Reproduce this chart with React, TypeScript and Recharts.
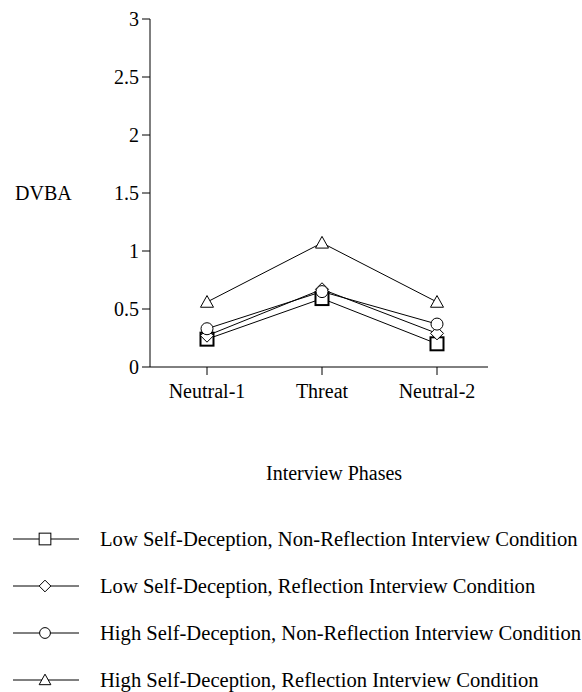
import { LineChart, Line, XAxis, YAxis } from "recharts";

const phases = ["Neutral-1", "Threat", "Neutral-2"];
const lowNonReflection = [0.24, 0.59, 0.2];
const lowReflection = [0.27, 0.67, 0.29];
const highNonReflection = [0.33, 0.65, 0.37];
const highReflection = [0.56, 1.07, 0.56];
const yTicks = [0, 0.5, 1, 1.5, 2, 2.5, 3];

type Shape = "square" | "diamond" | "circle" | "triangle";

const series: { key: string; name: string; shape: Shape; values: number[] }[] = [
  { key: "lnr", name: "Low Self-Deception, Non-Reflection Interview Condition", shape: "square", values: lowNonReflection },
  { key: "lr", name: "Low Self-Deception, Reflection Interview Condition", shape: "diamond", values: lowReflection },
  { key: "hnr", name: "High Self-Deception, Non-Reflection Interview Condition", shape: "circle", values: highNonReflection },
  { key: "hr", name: "High Self-Deception, Reflection Interview Condition", shape: "triangle", values: highReflection },
];

const data = phases.map((phase, i) => {
  const row: Record<string, string | number> = { phase };
  series.forEach(s => { row[s.key] = s.values[i]; });
  return row;
});

const FONT = "'Liberation Serif', 'Times New Roman', serif";

function Marker({ shape, cx, cy, big }: { shape: Shape; cx: number; cy: number; big: boolean }) {
  const s = big ? 1 : 0.9;
  if (shape === "square") {
    const h = 6.5 * s;
    return <rect x={cx - h} y={cy - h} width={h * 2} height={h * 2} fill="#fff" stroke="#000" strokeWidth={big ? 2 : 1} />;
  }
  if (shape === "diamond") {
    const h = 6.5 * s;
    return <polygon points={`${cx},${cy - h} ${cx + h},${cy} ${cx},${cy + h} ${cx - h},${cy}`} fill="#fff" stroke="#000" strokeWidth={1} />;
  }
  if (shape === "circle") {
    return <circle cx={cx} cy={cy} r={6 * s} fill="#fff" stroke="#000" strokeWidth={1} />;
  }
  const h = 6.5 * s;
  return <polygon points={`${cx},${cy - h} ${cx + h},${cy + h * 0.8} ${cx - h},${cy + h * 0.8}`} fill="#fff" stroke="#000" strokeWidth={1} />;
}

export default function App() {
  return (
    <div style={{ position: "absolute", left: 0, top: 0, width: 582, height: 692, background: "#fff", fontFamily: FONT, color: "#000" }}>
      <LineChart width={582} height={692} data={data} margin={{ top: 19, right: 94, left: 90, bottom: 295 }}>
        <XAxis
          dataKey="phase"
          padding={{ left: 57, right: 51 }}
          axisLine={{ stroke: "#000" }}
          tickLine={{ stroke: "#000" }}
          tickSize={8}
          tickMargin={9}
          height={30}
          tick={{ fill: "#000", fontSize: 20, fontFamily: FONT }}
        />
        <YAxis
          domain={[0, 3]}
          ticks={yTicks}
          width={60}
          axisLine={{ stroke: "#000" }}
          tickLine={{ stroke: "#000" }}
          tickSize={8}
          tickMargin={3}
          tick={{ fill: "#000", fontSize: 20, fontFamily: FONT }}
        />
        {series.map(s => (
          <Line
            key={s.key}
            dataKey={s.key}
            name={s.name}
            type="linear"
            stroke="#000"
            strokeWidth={1}
            isAnimationActive={false}
            dot={(p: any) => <Marker key={`${s.key}-${p.index}`} shape={s.shape} cx={p.cx} cy={p.cy} big />}
            activeDot={false}
          />
        ))}
      </LineChart>
      <div style={{ position: "absolute", left: 15, top: 181, fontSize: 20, lineHeight: "24px" }}>DVBA</div>
      <div style={{ position: "absolute", left: 266, top: 461, fontSize: 20, lineHeight: "24px" }}>Interview Phases</div>
      {series.map((s, i) => (
        <div key={s.key} style={{ position: "absolute", left: 0, top: 527 + i * 47, height: 24, display: "flex", alignItems: "center" }}>
          <svg width={100} height={24} style={{ flex: "none" }}>
            <line x1={13} y1={12} x2={79} y2={12} stroke="#000" strokeWidth={1} />
            <Marker shape={s.shape} cx={45} cy={12} big={false} />
          </svg>
          <span style={{ fontSize: 20.6, lineHeight: "24px", whiteSpace: "nowrap" }}>{s.name}</span>
        </div>
      ))}
    </div>
  );
}
